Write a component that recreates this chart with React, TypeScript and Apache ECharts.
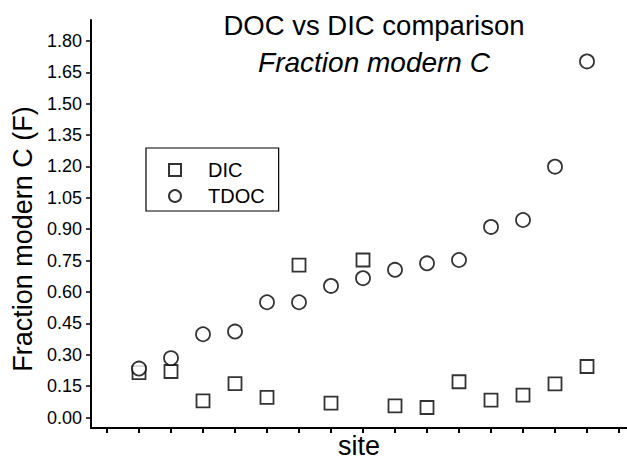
import React, { useEffect, useRef } from "react";
import * as echarts from "echarts";

const sites = [1, 2, 3, 4, 5, 6, 7, 8, 9, 10, 11, 12, 13, 14, 15];
const dicValues = [0.215, 0.22, 0.08, 0.162, 0.096, 0.728, 0.069, 0.753, 0.056, 0.048, 0.171, 0.083, 0.107, 0.161, 0.244];
const tdocValues = [0.234, 0.284, 0.398, 0.411, 0.551, 0.551, 0.629, 0.666, 0.706, 0.737, 0.753, 0.911, 0.944, 1.199, 1.702];
const yTicks = [0, 0.15, 0.3, 0.45, 0.6, 0.75, 0.9, 1.05, 1.2, 1.35, 1.5, 1.65, 1.8];
const xTicks = [0, 1, 2, 3, 4, 5, 6, 7, 8, 9, 10, 11, 12, 13, 14, 15, 16];

const FONT = "Liberation Sans";

export default function App() {
  const ref = useRef<HTMLDivElement>(null);
  useEffect(() => {
    if (!ref.current) return;
    const chart = echarts.init(ref.current, undefined, { renderer: "svg" });
    const markerStyle = { color: "#fff", borderColor: "#000", borderWidth: 1.8 };
    chart.setOption({
      animation: false,
      backgroundColor: "#fff",
      title: {
        text: "DOC vs DIC comparison",
        subtext: "Fraction modern C",
        left: 369,
        top: 6,
        textAlign: "center",
        itemGap: 9,
        textStyle: { fontFamily: FONT, fontSize: 27.5, fontWeight: "normal", color: "#000" },
        subtextStyle: { fontFamily: FONT, fontSize: 28, fontStyle: "italic", color: "#000" },
      },
      legend: {
        orient: "vertical",
        left: 146,
        top: 148,
        padding: [12, 14, 5, 22],
        itemWidth: 12,
        itemHeight: 12,
        itemGap: 6,
        borderColor: "#000",
        borderWidth: 1.2,
        textStyle: { fontFamily: FONT, fontSize: 20, color: "#000", lineHeight: 20, padding: [0, 0, 0, 22] },
        data: ["DIC", "TDOC"],
      },
      grid: { left: 91, right: 0, top: 20, bottom: 31, containLabel: false, outerBoundsMode: "none" },
      xAxis: {
        type: "value",
        min: -0.5,
        max: 16.25,
        name: "site",
        nameLocation: "middle",
        nameGap: 4,
        nameTextStyle: { fontFamily: FONT, fontSize: 27, lineHeight: 27, color: "#000" },
        axisLine: { show: true, onZero: false, lineStyle: { color: "#000", width: 2 } },
        axisTick: { show: true, length: 5, lineStyle: { color: "#000", width: 2 }, customValues: xTicks },
        axisLabel: { show: false },
        splitLine: { show: false },
      },
      yAxis: {
        type: "value",
        min: -0.05,
        max: 1.9,
        name: "Fraction modern C (F)",
        nameLocation: "middle",
        nameGap: 55,
        nameTextStyle: { fontFamily: FONT, fontSize: 27, color: "#000", padding: [0, 30, 0, 0] },
        axisLine: { show: true, onZero: false, lineStyle: { color: "#000", width: 2 } },
        axisTick: { show: true, length: 5, lineStyle: { color: "#000", width: 1.5 }, customValues: yTicks },
        axisLabel: {
          customValues: yTicks,
          margin: 9,
          fontFamily: FONT,
          fontSize: 18,
          color: "#000",
          formatter: (v: number) => v.toFixed(2),
        },
        splitLine: { show: false },
      },
      series: [
        {
          name: "DIC",
          type: "scatter",
          symbol: "rect",
          symbolSize: 13,
          itemStyle: markerStyle,
          data: sites.map((s, i) => [s, dicValues[i]]),
        },
        {
          name: "TDOC",
          type: "scatter",
          symbol: "circle",
          symbolSize: 14,
          itemStyle: markerStyle,
          data: sites.map((s, i) => [s, tdocValues[i]]),
        },
      ],
    });
    return () => chart.dispose();
  }, []);
  return (
    <div
      ref={ref}
      style={{ position: "fixed", left: 0, top: 0, width: 627, height: 459, background: "#fff" }}
    />
  );
}
